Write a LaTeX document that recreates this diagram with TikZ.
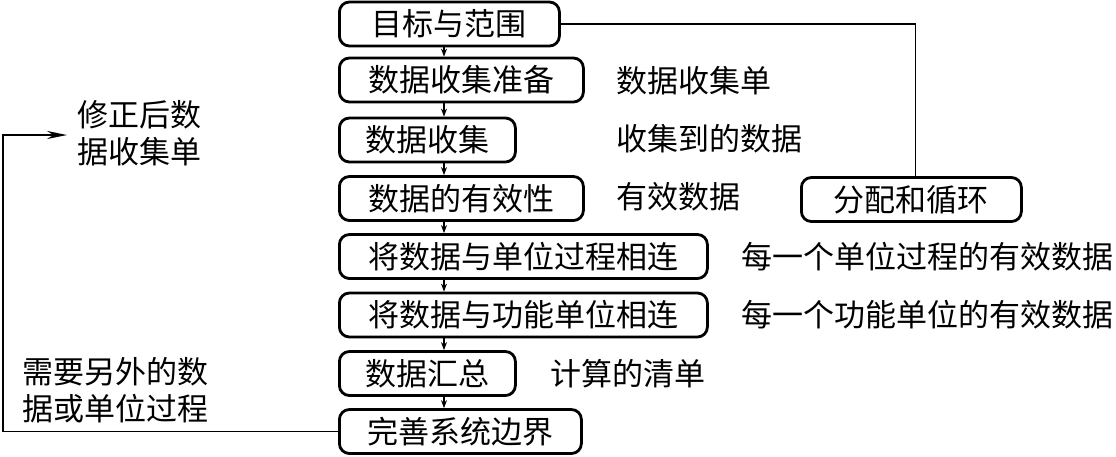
\documentclass[tikz,border=0pt]{standalone}
\usepackage{fontspec}
\setmainfont{Noto Sans CJK SC}
\usetikzlibrary{arrows.meta}
\begin{document}
\begin{tikzpicture}[x=1pt,y=-1pt,
  cjk/.style={font=\fontsize{31pt}{37pt}\selectfont},
  stepbox/.style={cjk, draw, line width=2.8pt, rounded corners=10pt, minimum height=44pt, anchor=west, inner sep=0pt},
  lbl/.style={cjk, anchor=west, inner sep=0pt, align=left},
  flow/.style={line width=1.1pt, -{Stealth[length=8pt,width=6pt]}},
  link/.style={line width=1.5pt}]
\useasboundingbox (0,0) rectangle (1116,456);
\node[stepbox, minimum width=220pt] (b1) at (338,24) {目标与范围};
\node[stepbox, minimum width=244pt] (b2) at (338,80) {数据收集准备};
\node[stepbox, minimum width=176pt] (b3) at (338,140) {数据收集};
\node[stepbox, minimum width=244pt] (b4) at (338,198.5) {数据的有效性};
\node[stepbox, minimum width=368pt] (b5) at (338,256.5) {将数据与单位过程相连};
\node[stepbox, minimum width=368pt] (b6) at (338,315) {将数据与功能单位相连};
\node[stepbox, minimum width=176pt] (b7) at (338,373.5) {数据汇总};
\node[stepbox, minimum width=242pt] (b8) at (338,431.5) {完善系统边界};
\node[stepbox, minimum width=220pt] (fp) at (800,199.5) {分配和循环};

\node[lbl] (l2) at (616,81) {数据收集单};
\node[lbl] (l3) at (616,139) {收集到的数据};
\node[lbl] (l4) at (616,197) {有效数据};
\node[lbl] (l5) at (741,257) {每一个单位过程的有效数据};
\node[lbl] (l6) at (741,315) {每一个功能单位的有效数据};
\node[lbl] (l7) at (550,374) {计算的清单};
\node[lbl] (lrev) at (77,133.5) {修正后数\\据收集单};
\node[lbl] (lneed) at (22,390) {需要另外的数\\据或单位过程};

\coordinate (ax) at (444,0);
\foreach \a/\b in {b1/b2,b2/b3,b3/b4,b4/b5,b5/b6,b6/b7,b7/b8}
  \draw[flow] (\a.south -| ax) -- (\b.north -| ax);

\coordinate (lc) at (3,135);
\draw[link, -{Stealth[length=20pt,width=8pt]}] (b8.west) -| (lc) -- ([xshift=-10pt]lrev.west |- lc);
\draw[link] (b1.east) -| ([xshift=4pt]fp.north);
\end{tikzpicture}
\end{document}
